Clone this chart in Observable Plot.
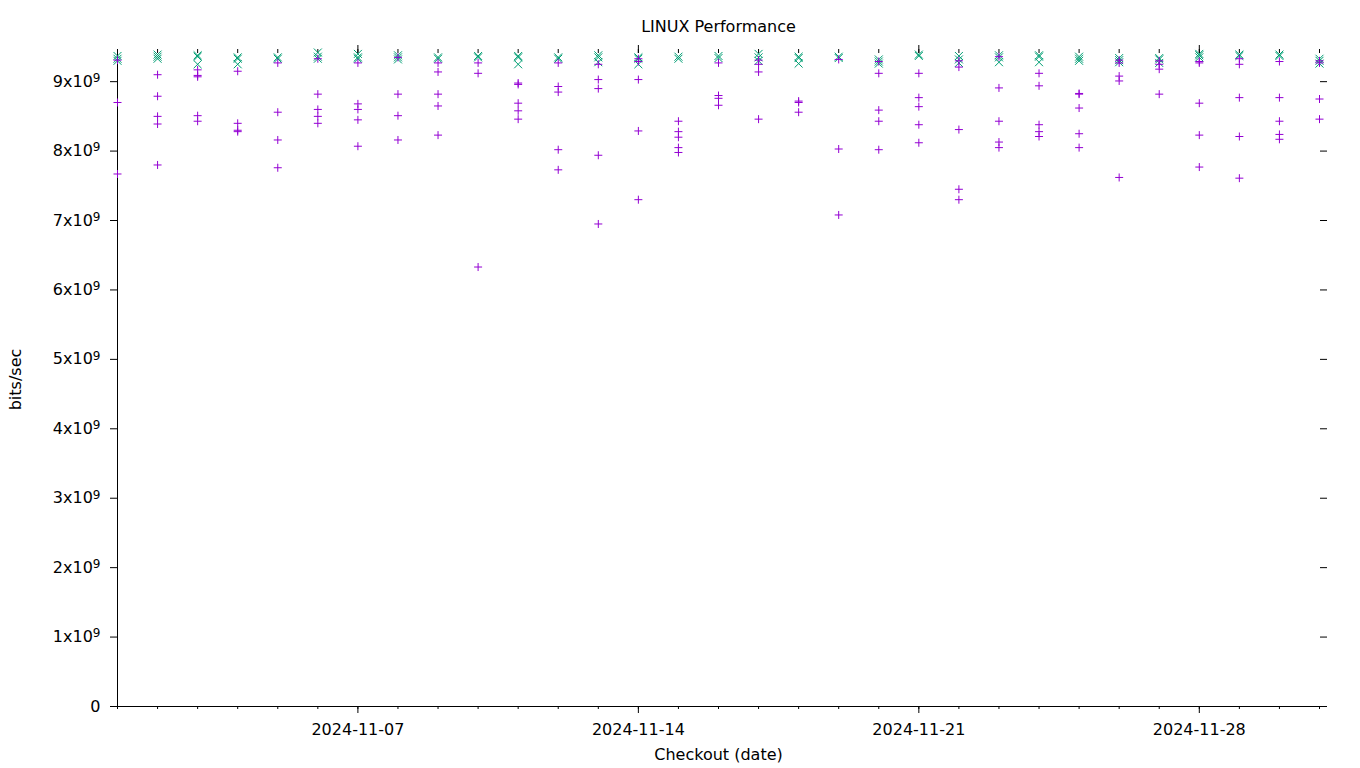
<!DOCTYPE html>
<html><head><meta charset="utf-8">
<script src="https://cdn.jsdelivr.net/npm/d3@7"></script>
<script src="https://cdn.jsdelivr.net/npm/@observablehq/plot@0.6"></script>
<style>
html,body{margin:0;padding:0;background:#fff;}
</style></head><body><div id="chart"></div>
<script>
const dates = ["2024-11-01","2024-11-02","2024-11-03","2024-11-04","2024-11-05","2024-11-06","2024-11-07","2024-11-08",
  "2024-11-09","2024-11-10","2024-11-11","2024-11-12","2024-11-13","2024-11-14","2024-11-15","2024-11-16",
  "2024-11-17","2024-11-18","2024-11-19","2024-11-20","2024-11-21","2024-11-22","2024-11-23","2024-11-24",
  "2024-11-25","2024-11-26","2024-11-27","2024-11-28","2024-11-29","2024-11-30","2024-12-01"];

// purple "+" series, Gbit/s per checkout date
const purpleGbps = [
  [9.31, 8.70, 7.67],
  [9.10, 8.79, 8.50, 8.39, 7.80],
  [9.17, 9.09, 9.07, 8.51, 8.43],
  [9.15, 8.40, 8.30, 8.28],
  [9.27, 8.56, 8.16, 7.76],
  [9.33, 8.82, 8.60, 8.50, 8.40],
  [9.27, 8.68, 8.60, 8.45, 8.07],
  [9.35, 8.82, 8.51, 8.16],
  [9.27, 9.14, 8.82, 8.65, 8.23],
  [9.27, 9.12, 6.33],
  [8.98, 8.96, 8.69, 8.58, 8.46],
  [9.27, 8.93, 8.85, 8.02, 7.73],
  [9.25, 9.03, 8.90, 7.94, 6.95],
  [9.33, 9.29, 9.03, 8.29, 7.30],
  [8.43, 8.28, 8.20, 8.05, 7.98],
  [9.27, 8.80, 8.76, 8.66],
  [9.31, 9.25, 9.14, 8.46],
  [8.72, 8.70, 8.56],
  [9.32, 8.03, 7.08],
  [9.29, 9.12, 8.59, 8.43, 8.02],
  [9.12, 8.77, 8.64, 8.38, 8.12],
  [9.30, 9.21, 8.31, 7.45, 7.30],
  [9.36, 8.91, 8.43, 8.13, 8.05],
  [9.12, 8.94, 8.38, 8.28, 8.21],
  [8.83, 8.82, 8.62, 8.25, 8.05],
  [9.31, 9.27, 9.08, 9.01, 7.62],
  [9.30, 9.25, 9.18, 8.82],
  [9.29, 9.27, 8.69, 8.23, 7.77],
  [9.33, 9.25, 8.77, 8.21, 7.61],
  [9.29, 8.77, 8.43, 8.24, 8.17],
  [9.30, 9.27, 8.75, 8.46]
];

// green "x" series, Gbit/s per checkout date
const greenGbps = [
  [9.37, 9.33, 9.30],
  [9.39, 9.36, 9.33],
  [9.38, 9.36, 9.25],
  [9.35, 9.33, 9.25],
  [9.35, 9.33],
  [9.42, 9.36, 9.33],
  [9.40, 9.35, 9.33],
  [9.38, 9.35, 9.32],
  [9.35, 9.33],
  [9.37, 9.35],
  [9.37, 9.35, 9.25],
  [9.35, 9.33],
  [9.38, 9.35, 9.28],
  [9.35, 9.33, 9.25],
  [9.36, 9.33],
  [9.37, 9.34],
  [9.40, 9.35, 9.30],
  [9.36, 9.34, 9.26],
  [9.36, 9.34],
  [9.32, 9.29, 9.26],
  [9.39, 9.37],
  [9.37, 9.32, 9.27],
  [9.38, 9.35, 9.28],
  [9.38, 9.36, 9.28],
  [9.36, 9.33, 9.30],
  [9.34, 9.31, 9.28],
  [9.34, 9.32, 9.27],
  [9.40, 9.38, 9.35],
  [9.39, 9.37],
  [9.39, 9.37],
  [9.33, 9.30, 9.26]
];

const weekTicks = ["2024-11-07","2024-11-14","2024-11-21","2024-11-28"];
const yTicks = [0, 1e9, 2e9, 3e9, 4e9, 5e9, 6e9, 7e9, 8e9, 9e9];
const yMax = 9.42e9;
const titleText = "LINUX Performance";
const xLabel = "Checkout (date)";
const yLabel = "bits/sec";
const purpleColor = "#9400d3";
const greenColor = "#009e73";

const parse = d3.utcParse("%Y-%m-%d");
const purple = dates.flatMap((d, i) => purpleGbps[i].map(v => ({date: parse(d), value: v * 1e9})));
const green = dates.flatMap((d, i) => greenGbps[i].map(v => ({date: parse(d), value: v * 1e9})));
const x0 = parse(dates[0]);
const x1 = parse(dates[dates.length - 1]);
const dayTicks = d3.utcDay.range(x0, d3.utcDay.offset(x1, 1));
const weekDates = weekTicks.map(parse);

const chart = Plot.plot({
  width: 1360, height: 768,
  marginLeft: 117, marginRight: 41, marginTop: 52, marginBottom: 62,
  style: {fontFamily: "'DejaVu Sans', sans-serif", fontSize: "16px", background: "#fff", color: "#000"},
  x: {type: "utc", domain: [x0, x1]},
  y: {domain: [0, yMax]},
  marks: [
    Plot.axisX({anchor: "bottom", ticks: dayTicks, tickSize: 3, tickFormat: () => "", label: null}),
    Plot.axisX({anchor: "bottom", ticks: weekDates, tickSize: 7, tickPadding: 10, tickFormat: d3.utcFormat("%Y-%m-%d"), label: null}),
    Plot.axisX({anchor: "top", ticks: dayTicks, tickSize: 4, tickFormat: () => "", label: null}),
    Plot.axisX({anchor: "top", ticks: weekDates, tickSize: 8, tickFormat: () => "", label: null}),
    Plot.axisY({anchor: "left", ticks: yTicks, tickSize: 7, tickPadding: 10, tickFormat: d => d === 0 ? "0" : `${d / 1e9}x10`, label: null}),
    Plot.axisY({anchor: "right", ticks: yTicks, tickSize: 7, tickFormat: () => "", label: null}),
    Plot.ruleY([0]),
    Plot.ruleX([x0]),
    Plot.dot(green, {x: "date", y: "value", symbol: "times", r: 3.7, stroke: greenColor, strokeWidth: 1}),
    Plot.dot(purple, {x: "date", y: "value", symbol: "plus", r: 2.7, stroke: purpleColor, strokeWidth: 1}),
    Plot.text([titleText], {frameAnchor: "top", dy: -26, lineAnchor: "middle", textAnchor: "middle"}),
    Plot.text([xLabel], {frameAnchor: "bottom", dy: 48, lineAnchor: "middle", textAnchor: "middle"}),
    Plot.text([yLabel], {frameAnchor: "left", dx: -102, rotate: -90, textAnchor: "middle", lineAnchor: "middle"})
  ]
});

// superscript exponent on y tick labels
const ns = "http://www.w3.org/2000/svg";
chart.querySelectorAll('g[aria-label="y-axis tick label"] text').forEach(t => {
  if (t.textContent.endsWith("x10")) {
    const ts = document.createElementNS(ns, "tspan");
    ts.setAttribute("dy", "-0.4em");
    ts.setAttribute("font-size", "12");
    ts.textContent = "9";
    t.appendChild(ts);
  }
});
document.getElementById("chart").appendChild(chart);
</script>
</body></html>
